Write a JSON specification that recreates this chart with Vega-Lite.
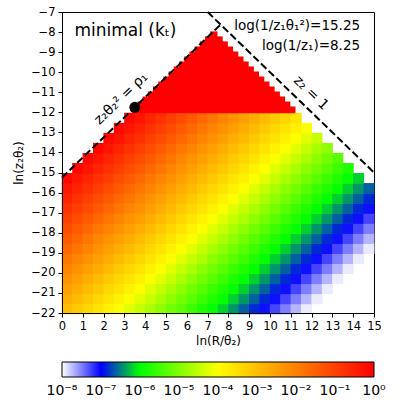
{
"$schema":"https://vega.github.io/schema/vega-lite/v6.json",
"width":312,"height":301,
"padding":{"left":12,"top":6,"right":5,"bottom":5},
"config":{"view":{"stroke":"black","strokeWidth":1},"axis":{"labelFont":"DejaVu Sans","titleFont":"DejaVu Sans","labelFontSize":11.5,"titleFontSize":12,"titleFontWeight":"normal","labelColor":"black","titleColor":"black","domainColor":"black","tickColor":"black","tickSize":4,"grid":false,"labelPadding":3,"labelOverlap":false,"labelBound":false,"labelFlush":false}},
"datasets":{
"cells":[
{"x":0,"y":-22,"v":-2.93},{"x":0.5,"y":-22,"v":-3.15},{"x":1,"y":-22,"v":-3.37},{"x":1.5,"y":-22,"v":-3.58},{"x":2,"y":-22,"v":-3.8},{"x":2.5,"y":-22,"v":-4.02},{"x":3,"y":-22,"v":-4.23},{"x":3.5,"y":-22,"v":-4.45},{"x":4,"y":-22,"v":-4.67},{"x":4.5,"y":-22,"v":-4.89},{"x":5,"y":-22,"v":-5.1},{"x":5.5,"y":-22,"v":-5.32},{"x":6,"y":-22,"v":-5.54},{"x":6.5,"y":-22,"v":-5.75},{"x":7,"y":-22,"v":-5.97},{"x":7.5,"y":-22,"v":-6.19},{"x":8,"y":-22,"v":-6.41},{"x":8.5,"y":-22,"v":-6.62},{"x":9,"y":-22,"v":-6.84},{"x":9.5,"y":-22,"v":-7.06},{"x":10,"y":-22,"v":-7.27},{"x":10.5,"y":-22,"v":-7.49},{"x":11,"y":-22,"v":-7.71},{"x":11.5,"y":-22,"v":-7.92},
{"x":0,"y":-21.5,"v":-2.71},{"x":0.5,"y":-21.5,"v":-2.93},{"x":1,"y":-21.5,"v":-3.15},{"x":1.5,"y":-21.5,"v":-3.37},{"x":2,"y":-21.5,"v":-3.58},{"x":2.5,"y":-21.5,"v":-3.8},{"x":3,"y":-21.5,"v":-4.02},{"x":3.5,"y":-21.5,"v":-4.23},{"x":4,"y":-21.5,"v":-4.45},{"x":4.5,"y":-21.5,"v":-4.67},{"x":5,"y":-21.5,"v":-4.89},{"x":5.5,"y":-21.5,"v":-5.1},{"x":6,"y":-21.5,"v":-5.32},{"x":6.5,"y":-21.5,"v":-5.54},{"x":7,"y":-21.5,"v":-5.75},{"x":7.5,"y":-21.5,"v":-5.97},{"x":8,"y":-21.5,"v":-6.19},{"x":8.5,"y":-21.5,"v":-6.41},{"x":9,"y":-21.5,"v":-6.62},{"x":9.5,"y":-21.5,"v":-6.84},{"x":10,"y":-21.5,"v":-7.06},{"x":10.5,"y":-21.5,"v":-7.27},{"x":11,"y":-21.5,"v":-7.49},{"x":11.5,"y":-21.5,"v":-7.71},{"x":12,"y":-21.5,"v":-7.92},
{"x":0,"y":-21,"v":-2.5},{"x":0.5,"y":-21,"v":-2.71},{"x":1,"y":-21,"v":-2.93},{"x":1.5,"y":-21,"v":-3.15},{"x":2,"y":-21,"v":-3.37},{"x":2.5,"y":-21,"v":-3.58},{"x":3,"y":-21,"v":-3.8},{"x":3.5,"y":-21,"v":-4.02},{"x":4,"y":-21,"v":-4.23},{"x":4.5,"y":-21,"v":-4.45},{"x":5,"y":-21,"v":-4.67},{"x":5.5,"y":-21,"v":-4.89},{"x":6,"y":-21,"v":-5.1},{"x":6.5,"y":-21,"v":-5.32},{"x":7,"y":-21,"v":-5.54},{"x":7.5,"y":-21,"v":-5.75},{"x":8,"y":-21,"v":-5.97},{"x":8.5,"y":-21,"v":-6.19},{"x":9,"y":-21,"v":-6.41},{"x":9.5,"y":-21,"v":-6.62},{"x":10,"y":-21,"v":-6.84},{"x":10.5,"y":-21,"v":-7.06},{"x":11,"y":-21,"v":-7.27},{"x":11.5,"y":-21,"v":-7.49},{"x":12,"y":-21,"v":-7.71},{"x":12.5,"y":-21,"v":-7.92},
{"x":0,"y":-20.5,"v":-2.28},{"x":0.5,"y":-20.5,"v":-2.5},{"x":1,"y":-20.5,"v":-2.71},{"x":1.5,"y":-20.5,"v":-2.93},{"x":2,"y":-20.5,"v":-3.15},{"x":2.5,"y":-20.5,"v":-3.37},{"x":3,"y":-20.5,"v":-3.58},{"x":3.5,"y":-20.5,"v":-3.8},{"x":4,"y":-20.5,"v":-4.02},{"x":4.5,"y":-20.5,"v":-4.23},{"x":5,"y":-20.5,"v":-4.45},{"x":5.5,"y":-20.5,"v":-4.67},{"x":6,"y":-20.5,"v":-4.89},{"x":6.5,"y":-20.5,"v":-5.1},{"x":7,"y":-20.5,"v":-5.32},{"x":7.5,"y":-20.5,"v":-5.54},{"x":8,"y":-20.5,"v":-5.75},{"x":8.5,"y":-20.5,"v":-5.97},{"x":9,"y":-20.5,"v":-6.19},{"x":9.5,"y":-20.5,"v":-6.41},{"x":10,"y":-20.5,"v":-6.62},{"x":10.5,"y":-20.5,"v":-6.84},{"x":11,"y":-20.5,"v":-7.06},{"x":11.5,"y":-20.5,"v":-7.27},{"x":12,"y":-20.5,"v":-7.49},{"x":12.5,"y":-20.5,"v":-7.71},{"x":13,"y":-20.5,"v":-7.92},
{"x":0,"y":-20,"v":-2.06},{"x":0.5,"y":-20,"v":-2.28},{"x":1,"y":-20,"v":-2.5},{"x":1.5,"y":-20,"v":-2.71},{"x":2,"y":-20,"v":-2.93},{"x":2.5,"y":-20,"v":-3.15},{"x":3,"y":-20,"v":-3.37},{"x":3.5,"y":-20,"v":-3.58},{"x":4,"y":-20,"v":-3.8},{"x":4.5,"y":-20,"v":-4.02},{"x":5,"y":-20,"v":-4.23},{"x":5.5,"y":-20,"v":-4.45},{"x":6,"y":-20,"v":-4.67},{"x":6.5,"y":-20,"v":-4.89},{"x":7,"y":-20,"v":-5.1},{"x":7.5,"y":-20,"v":-5.32},{"x":8,"y":-20,"v":-5.54},{"x":8.5,"y":-20,"v":-5.75},{"x":9,"y":-20,"v":-5.97},{"x":9.5,"y":-20,"v":-6.19},{"x":10,"y":-20,"v":-6.41},{"x":10.5,"y":-20,"v":-6.62},{"x":11,"y":-20,"v":-6.84},{"x":11.5,"y":-20,"v":-7.06},{"x":12,"y":-20,"v":-7.27},{"x":12.5,"y":-20,"v":-7.49},{"x":13,"y":-20,"v":-7.71},{"x":13.5,"y":-20,"v":-7.92},
{"x":0,"y":-19.5,"v":-1.85},{"x":0.5,"y":-19.5,"v":-2.06},{"x":1,"y":-19.5,"v":-2.28},{"x":1.5,"y":-19.5,"v":-2.5},{"x":2,"y":-19.5,"v":-2.71},{"x":2.5,"y":-19.5,"v":-2.93},{"x":3,"y":-19.5,"v":-3.15},{"x":3.5,"y":-19.5,"v":-3.37},{"x":4,"y":-19.5,"v":-3.58},{"x":4.5,"y":-19.5,"v":-3.8},{"x":5,"y":-19.5,"v":-4.02},{"x":5.5,"y":-19.5,"v":-4.23},{"x":6,"y":-19.5,"v":-4.45},{"x":6.5,"y":-19.5,"v":-4.67},{"x":7,"y":-19.5,"v":-4.89},{"x":7.5,"y":-19.5,"v":-5.1},{"x":8,"y":-19.5,"v":-5.32},{"x":8.5,"y":-19.5,"v":-5.54},{"x":9,"y":-19.5,"v":-5.75},{"x":9.5,"y":-19.5,"v":-5.97},{"x":10,"y":-19.5,"v":-6.19},{"x":10.5,"y":-19.5,"v":-6.41},{"x":11,"y":-19.5,"v":-6.62},{"x":11.5,"y":-19.5,"v":-6.84},{"x":12,"y":-19.5,"v":-7.06},{"x":12.5,"y":-19.5,"v":-7.27},{"x":13,"y":-19.5,"v":-7.49},{"x":13.5,"y":-19.5,"v":-7.71},{"x":14,"y":-19.5,"v":-7.92},
{"x":0,"y":-19,"v":-1.63},{"x":0.5,"y":-19,"v":-1.85},{"x":1,"y":-19,"v":-2.06},{"x":1.5,"y":-19,"v":-2.28},{"x":2,"y":-19,"v":-2.5},{"x":2.5,"y":-19,"v":-2.71},{"x":3,"y":-19,"v":-2.93},{"x":3.5,"y":-19,"v":-3.15},{"x":4,"y":-19,"v":-3.37},{"x":4.5,"y":-19,"v":-3.58},{"x":5,"y":-19,"v":-3.8},{"x":5.5,"y":-19,"v":-4.02},{"x":6,"y":-19,"v":-4.23},{"x":6.5,"y":-19,"v":-4.45},{"x":7,"y":-19,"v":-4.67},{"x":7.5,"y":-19,"v":-4.89},{"x":8,"y":-19,"v":-5.1},{"x":8.5,"y":-19,"v":-5.32},{"x":9,"y":-19,"v":-5.54},{"x":9.5,"y":-19,"v":-5.75},{"x":10,"y":-19,"v":-5.97},{"x":10.5,"y":-19,"v":-6.19},{"x":11,"y":-19,"v":-6.41},{"x":11.5,"y":-19,"v":-6.62},{"x":12,"y":-19,"v":-6.84},{"x":12.5,"y":-19,"v":-7.06},{"x":13,"y":-19,"v":-7.27},{"x":13.5,"y":-19,"v":-7.49},{"x":14,"y":-19,"v":-7.71},{"x":14.5,"y":-19,"v":-7.92},
{"x":0,"y":-18.5,"v":-1.41},{"x":0.5,"y":-18.5,"v":-1.63},{"x":1,"y":-18.5,"v":-1.85},{"x":1.5,"y":-18.5,"v":-2.06},{"x":2,"y":-18.5,"v":-2.28},{"x":2.5,"y":-18.5,"v":-2.5},{"x":3,"y":-18.5,"v":-2.71},{"x":3.5,"y":-18.5,"v":-2.93},{"x":4,"y":-18.5,"v":-3.15},{"x":4.5,"y":-18.5,"v":-3.37},{"x":5,"y":-18.5,"v":-3.58},{"x":5.5,"y":-18.5,"v":-3.8},{"x":6,"y":-18.5,"v":-4.02},{"x":6.5,"y":-18.5,"v":-4.23},{"x":7,"y":-18.5,"v":-4.45},{"x":7.5,"y":-18.5,"v":-4.67},{"x":8,"y":-18.5,"v":-4.89},{"x":8.5,"y":-18.5,"v":-5.1},{"x":9,"y":-18.5,"v":-5.32},{"x":9.5,"y":-18.5,"v":-5.54},{"x":10,"y":-18.5,"v":-5.75},{"x":10.5,"y":-18.5,"v":-5.97},{"x":11,"y":-18.5,"v":-6.19},{"x":11.5,"y":-18.5,"v":-6.41},{"x":12,"y":-18.5,"v":-6.62},{"x":12.5,"y":-18.5,"v":-6.84},{"x":13,"y":-18.5,"v":-7.06},{"x":13.5,"y":-18.5,"v":-7.27},{"x":14,"y":-18.5,"v":-7.49},{"x":14.5,"y":-18.5,"v":-7.71},
{"x":0,"y":-18,"v":-1.19},{"x":0.5,"y":-18,"v":-1.41},{"x":1,"y":-18,"v":-1.63},{"x":1.5,"y":-18,"v":-1.85},{"x":2,"y":-18,"v":-2.06},{"x":2.5,"y":-18,"v":-2.28},{"x":3,"y":-18,"v":-2.5},{"x":3.5,"y":-18,"v":-2.71},{"x":4,"y":-18,"v":-2.93},{"x":4.5,"y":-18,"v":-3.15},{"x":5,"y":-18,"v":-3.37},{"x":5.5,"y":-18,"v":-3.58},{"x":6,"y":-18,"v":-3.8},{"x":6.5,"y":-18,"v":-4.02},{"x":7,"y":-18,"v":-4.23},{"x":7.5,"y":-18,"v":-4.45},{"x":8,"y":-18,"v":-4.67},{"x":8.5,"y":-18,"v":-4.89},{"x":9,"y":-18,"v":-5.1},{"x":9.5,"y":-18,"v":-5.32},{"x":10,"y":-18,"v":-5.54},{"x":10.5,"y":-18,"v":-5.75},{"x":11,"y":-18,"v":-5.97},{"x":11.5,"y":-18,"v":-6.19},{"x":12,"y":-18,"v":-6.41},{"x":12.5,"y":-18,"v":-6.62},{"x":13,"y":-18,"v":-6.84},{"x":13.5,"y":-18,"v":-7.06},{"x":14,"y":-18,"v":-7.27},{"x":14.5,"y":-18,"v":-7.49},
{"x":0,"y":-17.5,"v":-0.98},{"x":0.5,"y":-17.5,"v":-1.19},{"x":1,"y":-17.5,"v":-1.41},{"x":1.5,"y":-17.5,"v":-1.63},{"x":2,"y":-17.5,"v":-1.85},{"x":2.5,"y":-17.5,"v":-2.06},{"x":3,"y":-17.5,"v":-2.28},{"x":3.5,"y":-17.5,"v":-2.5},{"x":4,"y":-17.5,"v":-2.71},{"x":4.5,"y":-17.5,"v":-2.93},{"x":5,"y":-17.5,"v":-3.15},{"x":5.5,"y":-17.5,"v":-3.37},{"x":6,"y":-17.5,"v":-3.58},{"x":6.5,"y":-17.5,"v":-3.8},{"x":7,"y":-17.5,"v":-4.02},{"x":7.5,"y":-17.5,"v":-4.23},{"x":8,"y":-17.5,"v":-4.45},{"x":8.5,"y":-17.5,"v":-4.67},{"x":9,"y":-17.5,"v":-4.89},{"x":9.5,"y":-17.5,"v":-5.1},{"x":10,"y":-17.5,"v":-5.32},{"x":10.5,"y":-17.5,"v":-5.54},{"x":11,"y":-17.5,"v":-5.75},{"x":11.5,"y":-17.5,"v":-5.97},{"x":12,"y":-17.5,"v":-6.19},{"x":12.5,"y":-17.5,"v":-6.41},{"x":13,"y":-17.5,"v":-6.62},{"x":13.5,"y":-17.5,"v":-6.84},{"x":14,"y":-17.5,"v":-7.06},{"x":14.5,"y":-17.5,"v":-7.27},
{"x":0,"y":-17,"v":-0.76},{"x":0.5,"y":-17,"v":-0.98},{"x":1,"y":-17,"v":-1.19},{"x":1.5,"y":-17,"v":-1.41},{"x":2,"y":-17,"v":-1.63},{"x":2.5,"y":-17,"v":-1.85},{"x":3,"y":-17,"v":-2.06},{"x":3.5,"y":-17,"v":-2.28},{"x":4,"y":-17,"v":-2.5},{"x":4.5,"y":-17,"v":-2.71},{"x":5,"y":-17,"v":-2.93},{"x":5.5,"y":-17,"v":-3.15},{"x":6,"y":-17,"v":-3.37},{"x":6.5,"y":-17,"v":-3.58},{"x":7,"y":-17,"v":-3.8},{"x":7.5,"y":-17,"v":-4.02},{"x":8,"y":-17,"v":-4.23},{"x":8.5,"y":-17,"v":-4.45},{"x":9,"y":-17,"v":-4.67},{"x":9.5,"y":-17,"v":-4.89},{"x":10,"y":-17,"v":-5.1},{"x":10.5,"y":-17,"v":-5.32},{"x":11,"y":-17,"v":-5.54},{"x":11.5,"y":-17,"v":-5.75},{"x":12,"y":-17,"v":-5.97},{"x":12.5,"y":-17,"v":-6.19},{"x":13,"y":-17,"v":-6.41},{"x":13.5,"y":-17,"v":-6.62},{"x":14,"y":-17,"v":-6.84},{"x":14.5,"y":-17,"v":-7.06},
{"x":0,"y":-16.5,"v":-0.54},{"x":0.5,"y":-16.5,"v":-0.76},{"x":1,"y":-16.5,"v":-0.98},{"x":1.5,"y":-16.5,"v":-1.19},{"x":2,"y":-16.5,"v":-1.41},{"x":2.5,"y":-16.5,"v":-1.63},{"x":3,"y":-16.5,"v":-1.85},{"x":3.5,"y":-16.5,"v":-2.06},{"x":4,"y":-16.5,"v":-2.28},{"x":4.5,"y":-16.5,"v":-2.5},{"x":5,"y":-16.5,"v":-2.71},{"x":5.5,"y":-16.5,"v":-2.93},{"x":6,"y":-16.5,"v":-3.15},{"x":6.5,"y":-16.5,"v":-3.37},{"x":7,"y":-16.5,"v":-3.58},{"x":7.5,"y":-16.5,"v":-3.8},{"x":8,"y":-16.5,"v":-4.02},{"x":8.5,"y":-16.5,"v":-4.23},{"x":9,"y":-16.5,"v":-4.45},{"x":9.5,"y":-16.5,"v":-4.67},{"x":10,"y":-16.5,"v":-4.89},{"x":10.5,"y":-16.5,"v":-5.1},{"x":11,"y":-16.5,"v":-5.32},{"x":11.5,"y":-16.5,"v":-5.54},{"x":12,"y":-16.5,"v":-5.75},{"x":12.5,"y":-16.5,"v":-5.97},{"x":13,"y":-16.5,"v":-6.19},{"x":13.5,"y":-16.5,"v":-6.41},{"x":14,"y":-16.5,"v":-6.62},{"x":14.5,"y":-16.5,"v":-6.84},
{"x":0,"y":-16,"v":-0.33},{"x":0.5,"y":-16,"v":-0.54},{"x":1,"y":-16,"v":-0.76},{"x":1.5,"y":-16,"v":-0.98},{"x":2,"y":-16,"v":-1.19},{"x":2.5,"y":-16,"v":-1.41},{"x":3,"y":-16,"v":-1.63},{"x":3.5,"y":-16,"v":-1.85},{"x":4,"y":-16,"v":-2.06},{"x":4.5,"y":-16,"v":-2.28},{"x":5,"y":-16,"v":-2.5},{"x":5.5,"y":-16,"v":-2.71},{"x":6,"y":-16,"v":-2.93},{"x":6.5,"y":-16,"v":-3.15},{"x":7,"y":-16,"v":-3.37},{"x":7.5,"y":-16,"v":-3.58},{"x":8,"y":-16,"v":-3.8},{"x":8.5,"y":-16,"v":-4.02},{"x":9,"y":-16,"v":-4.23},{"x":9.5,"y":-16,"v":-4.45},{"x":10,"y":-16,"v":-4.67},{"x":10.5,"y":-16,"v":-4.89},{"x":11,"y":-16,"v":-5.1},{"x":11.5,"y":-16,"v":-5.32},{"x":12,"y":-16,"v":-5.54},{"x":12.5,"y":-16,"v":-5.75},{"x":13,"y":-16,"v":-5.97},{"x":13.5,"y":-16,"v":-6.19},{"x":14,"y":-16,"v":-6.41},{"x":14.5,"y":-16,"v":-6.62},
{"x":0,"y":-15.5,"v":-0.11},{"x":0.5,"y":-15.5,"v":-0.33},{"x":1,"y":-15.5,"v":-0.54},{"x":1.5,"y":-15.5,"v":-0.76},{"x":2,"y":-15.5,"v":-0.98},{"x":2.5,"y":-15.5,"v":-1.19},{"x":3,"y":-15.5,"v":-1.41},{"x":3.5,"y":-15.5,"v":-1.63},{"x":4,"y":-15.5,"v":-1.85},{"x":4.5,"y":-15.5,"v":-2.06},{"x":5,"y":-15.5,"v":-2.28},{"x":5.5,"y":-15.5,"v":-2.5},{"x":6,"y":-15.5,"v":-2.71},{"x":6.5,"y":-15.5,"v":-2.93},{"x":7,"y":-15.5,"v":-3.15},{"x":7.5,"y":-15.5,"v":-3.37},{"x":8,"y":-15.5,"v":-3.58},{"x":8.5,"y":-15.5,"v":-3.8},{"x":9,"y":-15.5,"v":-4.02},{"x":9.5,"y":-15.5,"v":-4.23},{"x":10,"y":-15.5,"v":-4.45},{"x":10.5,"y":-15.5,"v":-4.67},{"x":11,"y":-15.5,"v":-4.89},{"x":11.5,"y":-15.5,"v":-5.1},{"x":12,"y":-15.5,"v":-5.32},{"x":12.5,"y":-15.5,"v":-5.54},{"x":13,"y":-15.5,"v":-5.75},{"x":13.5,"y":-15.5,"v":-5.97},{"x":14,"y":-15.5,"v":-6.19},
{"x":0.5,"y":-15,"v":-0.11},{"x":1,"y":-15,"v":-0.33},{"x":1.5,"y":-15,"v":-0.54},{"x":2,"y":-15,"v":-0.76},{"x":2.5,"y":-15,"v":-0.98},{"x":3,"y":-15,"v":-1.19},{"x":3.5,"y":-15,"v":-1.41},{"x":4,"y":-15,"v":-1.63},{"x":4.5,"y":-15,"v":-1.85},{"x":5,"y":-15,"v":-2.06},{"x":5.5,"y":-15,"v":-2.28},{"x":6,"y":-15,"v":-2.5},{"x":6.5,"y":-15,"v":-2.71},{"x":7,"y":-15,"v":-2.93},{"x":7.5,"y":-15,"v":-3.15},{"x":8,"y":-15,"v":-3.37},{"x":8.5,"y":-15,"v":-3.58},{"x":9,"y":-15,"v":-3.8},{"x":9.5,"y":-15,"v":-4.02},{"x":10,"y":-15,"v":-4.23},{"x":10.5,"y":-15,"v":-4.45},{"x":11,"y":-15,"v":-4.67},{"x":11.5,"y":-15,"v":-4.89},{"x":12,"y":-15,"v":-5.1},{"x":12.5,"y":-15,"v":-5.32},{"x":13,"y":-15,"v":-5.54},{"x":13.5,"y":-15,"v":-5.75},
{"x":1,"y":-14.5,"v":-0.11},{"x":1.5,"y":-14.5,"v":-0.33},{"x":2,"y":-14.5,"v":-0.54},{"x":2.5,"y":-14.5,"v":-0.76},{"x":3,"y":-14.5,"v":-0.98},{"x":3.5,"y":-14.5,"v":-1.19},{"x":4,"y":-14.5,"v":-1.41},{"x":4.5,"y":-14.5,"v":-1.63},{"x":5,"y":-14.5,"v":-1.85},{"x":5.5,"y":-14.5,"v":-2.06},{"x":6,"y":-14.5,"v":-2.28},{"x":6.5,"y":-14.5,"v":-2.5},{"x":7,"y":-14.5,"v":-2.71},{"x":7.5,"y":-14.5,"v":-2.93},{"x":8,"y":-14.5,"v":-3.15},{"x":8.5,"y":-14.5,"v":-3.37},{"x":9,"y":-14.5,"v":-3.58},{"x":9.5,"y":-14.5,"v":-3.8},{"x":10,"y":-14.5,"v":-4.02},{"x":10.5,"y":-14.5,"v":-4.23},{"x":11,"y":-14.5,"v":-4.45},{"x":11.5,"y":-14.5,"v":-4.67},{"x":12,"y":-14.5,"v":-4.89},{"x":12.5,"y":-14.5,"v":-5.1},{"x":13,"y":-14.5,"v":-5.32},
{"x":1.5,"y":-14,"v":-0.11},{"x":2,"y":-14,"v":-0.33},{"x":2.5,"y":-14,"v":-0.54},{"x":3,"y":-14,"v":-0.76},{"x":3.5,"y":-14,"v":-0.98},{"x":4,"y":-14,"v":-1.19},{"x":4.5,"y":-14,"v":-1.41},{"x":5,"y":-14,"v":-1.63},{"x":5.5,"y":-14,"v":-1.85},{"x":6,"y":-14,"v":-2.06},{"x":6.5,"y":-14,"v":-2.28},{"x":7,"y":-14,"v":-2.5},{"x":7.5,"y":-14,"v":-2.71},{"x":8,"y":-14,"v":-2.93},{"x":8.5,"y":-14,"v":-3.15},{"x":9,"y":-14,"v":-3.37},{"x":9.5,"y":-14,"v":-3.58},{"x":10,"y":-14,"v":-3.8},{"x":10.5,"y":-14,"v":-4.02},{"x":11,"y":-14,"v":-4.23},{"x":11.5,"y":-14,"v":-4.45},{"x":12,"y":-14,"v":-4.67},{"x":12.5,"y":-14,"v":-4.89},
{"x":2,"y":-13.5,"v":-0.11},{"x":2.5,"y":-13.5,"v":-0.33},{"x":3,"y":-13.5,"v":-0.54},{"x":3.5,"y":-13.5,"v":-0.76},{"x":4,"y":-13.5,"v":-0.98},{"x":4.5,"y":-13.5,"v":-1.19},{"x":5,"y":-13.5,"v":-1.41},{"x":5.5,"y":-13.5,"v":-1.63},{"x":6,"y":-13.5,"v":-1.85},{"x":6.5,"y":-13.5,"v":-2.06},{"x":7,"y":-13.5,"v":-2.28},{"x":7.5,"y":-13.5,"v":-2.5},{"x":8,"y":-13.5,"v":-2.71},{"x":8.5,"y":-13.5,"v":-2.93},{"x":9,"y":-13.5,"v":-3.15},{"x":9.5,"y":-13.5,"v":-3.37},{"x":10,"y":-13.5,"v":-3.58},{"x":10.5,"y":-13.5,"v":-3.8},{"x":11,"y":-13.5,"v":-4.02},{"x":11.5,"y":-13.5,"v":-4.23},{"x":12,"y":-13.5,"v":-4.45},
{"x":2.5,"y":-13,"v":-0.11},{"x":3,"y":-13,"v":-0.33},{"x":3.5,"y":-13,"v":-0.54},{"x":4,"y":-13,"v":-0.76},{"x":4.5,"y":-13,"v":-0.98},{"x":5,"y":-13,"v":-1.19},{"x":5.5,"y":-13,"v":-1.41},{"x":6,"y":-13,"v":-1.63},{"x":6.5,"y":-13,"v":-1.85},{"x":7,"y":-13,"v":-2.06},{"x":7.5,"y":-13,"v":-2.28},{"x":8,"y":-13,"v":-2.5},{"x":8.5,"y":-13,"v":-2.71},{"x":9,"y":-13,"v":-2.93},{"x":9.5,"y":-13,"v":-3.15},{"x":10,"y":-13,"v":-3.37},{"x":10.5,"y":-13,"v":-3.58},{"x":11,"y":-13,"v":-3.8},{"x":11.5,"y":-13,"v":-4.02},
{"x":3,"y":-12.5,"v":-0.11},{"x":3.5,"y":-12.5,"v":-0.33},{"x":4,"y":-12.5,"v":-0.54},{"x":4.5,"y":-12.5,"v":-0.76},{"x":5,"y":-12.5,"v":-0.98},{"x":5.5,"y":-12.5,"v":-1.19},{"x":6,"y":-12.5,"v":-1.41},{"x":6.5,"y":-12.5,"v":-1.63},{"x":7,"y":-12.5,"v":-1.85},{"x":7.5,"y":-12.5,"v":-2.06},{"x":8,"y":-12.5,"v":-2.28},{"x":8.5,"y":-12.5,"v":-2.5},{"x":9,"y":-12.5,"v":-2.71},{"x":9.5,"y":-12.5,"v":-2.93},{"x":10,"y":-12.5,"v":-3.15},{"x":10.5,"y":-12.5,"v":-3.37},{"x":11,"y":-12.5,"v":-3.58}
],
"strips":[
{"x":3.375,"x2":11.225,"y":-12,"y2":-11.75,"v":0},{"x":3.625,"x2":10.975,"y":-11.75,"y2":-11.5,"v":0},{"x":3.875,"x2":10.725,"y":-11.5,"y2":-11.25,"v":0},{"x":4.125,"x2":10.475,"y":-11.25,"y2":-11,"v":0},{"x":4.375,"x2":10.225,"y":-11,"y2":-10.75,"v":0},{"x":4.625,"x2":9.975,"y":-10.75,"y2":-10.5,"v":0},{"x":4.875,"x2":9.725,"y":-10.5,"y2":-10.25,"v":0},{"x":5.125,"x2":9.475,"y":-10.25,"y2":-10,"v":0},{"x":5.375,"x2":9.225,"y":-10,"y2":-9.75,"v":0},{"x":5.625,"x2":8.975,"y":-9.75,"y2":-9.5,"v":0},{"x":5.875,"x2":8.725,"y":-9.5,"y2":-9.25,"v":0},{"x":6.125,"x2":8.475,"y":-9.25,"y2":-9,"v":0},{"x":6.375,"x2":8.225,"y":-9,"y2":-8.75,"v":0},{"x":6.625,"x2":7.975,"y":-8.75,"y2":-8.5,"v":0},{"x":6.875,"x2":7.725,"y":-8.5,"y2":-8.25,"v":0},{"x":7.125,"x2":7.475,"y":-8.25,"y2":-8,"v":0}
],
"lines":[{"x":0,"y":-15.25,"g":"a"},{"x":7.625,"y":-7.625,"g":"a"},{"x":7,"y":-7,"g":"b"},{"x":15,"y":-15,"g":"b"}]
},
"layer":[
{"data":{"name":"cells"},"mark":{"type":"rect","binSpacing":0,"x2Offset":-0.7,"y2Offset":0.7},
"encoding":{
"x":{"field":"x","type":"quantitative","bin":{"binned":true,"step":0.5},"scale":{"domain":[0,15],"nice":false,"zero":false},"axis":{"title":"ln(R/θ₂)","values":[0,1,2,3,4,5,6,7,8,9,10,11,12,13,14,15],"format":"d","titlePadding":4,"labelOverlap":false,"labelFlush":false}},
"y":{"field":"y","type":"quantitative","bin":{"binned":true,"step":0.5},"scale":{"domain":[-22,-7],"nice":false,"zero":false},"axis":{"title":"ln(z₂θ₂)","values":[-22,-21,-20,-19,-18,-17,-16,-15,-14,-13,-12,-11,-10,-9,-8,-7],"format":"d","titlePadding":5,"labelOverlap":false,"labelFlush":false}},
"color":{"field":"v","type":"quantitative","scale":{"domain":[-8,0],"range":["#ffffff","#0000ff","#00ff00","#80ff00","#ffff00","#ffbf00","#ff8000","#ff4000","#ff0000"],"interpolate":"rgb","clamp":true},
"legend":{"orient":"none","legendX":0,"legendY":350,"direction":"horizontal","gradientLength":312,"gradientThickness":15,"title":null,"values":[-8,-7,-6,-5,-4,-3,-2,-1,0],"labelExpr":"['10⁻⁸','10⁻⁷','10⁻⁶','10⁻⁵','10⁻⁴','10⁻³','10⁻²','10⁻¹','10⁰'][datum.value + 8]","labelFont":"DejaVu Sans","labelFontSize":14,"labelColor":"black","labelAlign":"center","labelOffset":7,"labelOverlap":false,"gradientStrokeColor":"black","gradientStrokeWidth":1,"encode":{"labels":{"update":{"align":{"value":"center"}}}}}}
}},
{"data":{"name":"strips"},"mark":{"type":"rect","yOffset":0.8,"y2Offset":-0.7},
"encoding":{"x":{"field":"x","type":"quantitative"},"x2":{"field":"x2"},"y":{"field":"y","type":"quantitative"},"y2":{"field":"y2"},"color":{"field":"v","type":"quantitative"}}},
{"data":{"name":"lines"},"mark":{"type":"line","color":"black","strokeWidth":2,"strokeDash":[7.4,3.2]},
"encoding":{"x":{"field":"x","type":"quantitative"},"y":{"field":"y","type":"quantitative"},"detail":{"field":"g"}}},
{"data":{"values":[{"x":3.5,"y":-11.75}]},"mark":{"type":"circle","size":120,"color":"black","opacity":1},
"encoding":{"x":{"field":"x","type":"quantitative"},"y":{"field":"y","type":"quantitative"}}},
{"data":{"values":[{"x":0.6,"y":-8.18,"t":"minimal (kₜ)"}]},"mark":{"type":"text","align":"left","baseline":"alphabetic","font":"DejaVu Sans","fontSize":17,"color":"black"},
"encoding":{"x":{"field":"x","type":"quantitative"},"y":{"field":"y","type":"quantitative"},"text":{"field":"t"}}},
{"data":{"values":[{"x":14.33,"y":-7.92,"t":"log(1/z₁θ₁²)=15.25"},{"x":14.33,"y":-8.88,"t":"log(1/z₁)=8.25"}]},"mark":{"type":"text","align":"right","baseline":"alphabetic","font":"DejaVu Sans","fontSize":13.5,"color":"black"},
"encoding":{"x":{"field":"x","type":"quantitative"},"y":{"field":"y","type":"quantitative"},"text":{"field":"t"}}},
{"data":{"values":[{"x":2.84,"y":-11.32,"t":"z₂θ₂² = ρ₁"}]},"mark":{"type":"text","align":"center","baseline":"middle","angle":316,"font":"DejaVu Sans","fontSize":14,"color":"black"},
"encoding":{"x":{"field":"x","type":"quantitative"},"y":{"field":"y","type":"quantitative"},"text":{"field":"t"}}},
{"data":{"values":[{"x":11.97,"y":-11.04,"t":"z₂ = 1"}]},"mark":{"type":"text","align":"center","baseline":"middle","angle":44,"font":"DejaVu Sans","fontSize":14,"color":"black"},
"encoding":{"x":{"field":"x","type":"quantitative"},"y":{"field":"y","type":"quantitative"},"text":{"field":"t"}}}
]
}
